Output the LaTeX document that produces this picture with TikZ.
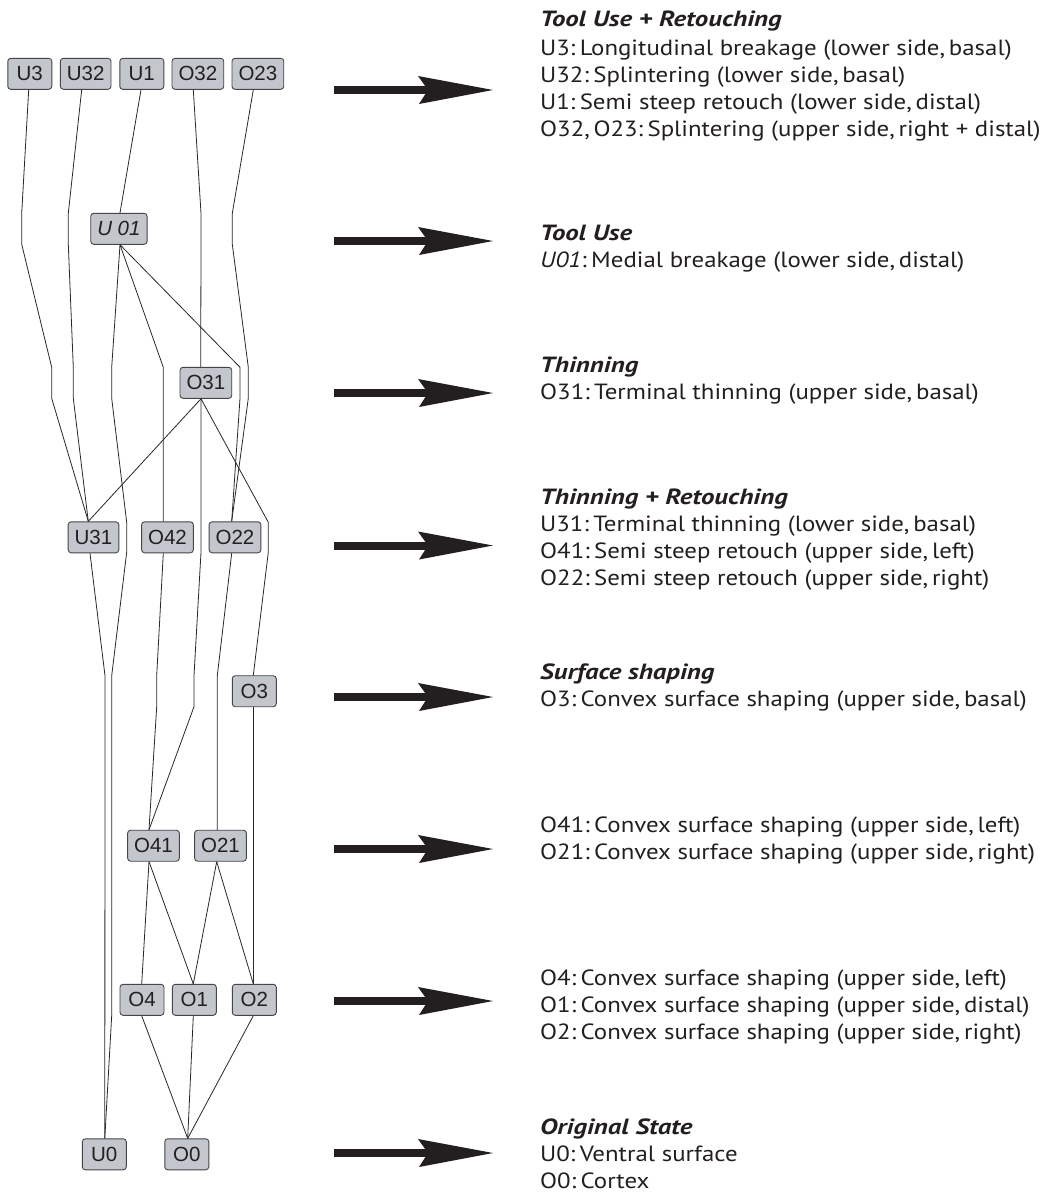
\documentclass[tikz,border=0pt]{standalone}
\usepackage{fontspec}
\setmainfont{PT Sans}[FakeStretch=1.13]
\newfontfamily\headfont{PT Sans}[FakeStretch=1.22]
\newfontfamily\boxfont{Liberation Sans}
\newcommand{\ksp}{\hspace{0.2em}}
\newcommand{\kcm}{\hspace{0.17em}}
\definecolor{boxfill}{RGB}{196,198,206}
\definecolor{boxline}{RGB}{70,70,72}
\definecolor{edgecol}{RGB}{40,40,40}
\definecolor{txtcol}{RGB}{35,31,32}
\tikzset{
  box/.style={draw=boxline, fill=boxfill, rounded corners=3pt, line width=0.9pt,
    minimum height=31pt, minimum width=44pt, inner xsep=6.5pt, inner ysep=0pt,
    font=\boxfont\fontsize{20.5}{24}\selectfont, text=txtcol},
  edge/.style={draw=edgecol, line width=0.8pt, line join=round},
  desc/.style={anchor=base west, inner sep=0pt, font=\fontsize{22}{27}\selectfont, text=txtcol},
  head/.style={anchor=base west, inner sep=0pt, font=\headfont\fontsize{22}{27}\selectfont\bfseries\itshape, text=txtcol},
  bigarr/.pic={
    \fill[txtcol] (0,-4) -- (94,-4) -- (94,4) -- (0,4) -- cycle;
    \fill[txtcol] (84,-14) -- (159,0) -- (85,14) -- (94,0) -- cycle;
  }
}
\begin{document}
\begin{tikzpicture}[x=1pt,y=-1pt]
\fill[white] (0,0) rectangle (1052,1194);
\useasboundingbox (0,0) rectangle (1052,1194);

% ---- nodes ----
\node[box] (U3)  at (29.8,73.8)  {U3};
\node[box] (U32) at (85.7,73.8)  {U32};
\node[box] (U1)  at (141.8,73.8) {U1};
\node[box] (O32) at (197.9,73.8) {O32};
\node[box] (O23) at (257.9,73.8) {O23};
\node[box] (U01) at (118.9,228.8) {\itshape U 01};
\node[box] (O31) at (205.9,382.8) {O31};
\node[box] (U31) at (93.5,537.3)  {U31};
\node[box] (O42) at (167.5,537.3) {O42};
\node[box] (O22) at (235.0,537.3) {O22};
\node[box] (O3)  at (254.3,691.2) {O3};
\node[box] (O41) at (153.5,845.7) {O41};
\node[box] (O21) at (220.5,845.7) {O21};
\node[box] (O4)  at (142.0,999.8) {O4};
\node[box] (O1)  at (194.3,999.8) {O1};
\node[box] (O2)  at (254.3,999.8) {O2};
\node[box] (U0)  at (104.3,1154.3) {U0};
\node[box] (O0)  at (186.8,1154.3) {O0};

% ---- connectors ----
\draw[edge] ([xshift=-1.1pt]U3.south) -- (21.7,213.3) -- (21.7,244.3) -- (51.7,367.3) -- (51.7,398.3) -- ([xshift=-5.2pt]U31.north);
\draw[edge] ([xshift=-4pt]U32.south) -- (68.3,213.3) -- (68.3,244.3) -- (73.3,367.3) -- (73.3,398.3) -- ([xshift=-5.2pt]U31.north);
\draw[edge] ([xshift=-0.8pt]U1.south) -- ([xshift=1.1pt]U01.north);
\draw[edge] ([xshift=-4.6pt]O32.south) -- (201,213.3) -- (201,244.3) -- ([xshift=-5.2pt]O31.north);
\draw[edge] ([xshift=-4.6pt]O23.south) -- (232.3,213.3) -- (232.3,244.3) -- (248.3,367.3) -- (248.3,398.3) -- ([xshift=-3.3pt]O22.north);
\draw[edge] ([xshift=1.1pt]U01.south) -- (111.7,367.3) -- (111.7,398.3) -- (126.7,522.3) -- (126.7,552.3) -- (111.7,675.7) -- (111.7,1015.7) -- ([xshift=0.5pt]U0.north);
\draw[edge] ([xshift=1.1pt]U01.south) -- (163.3,367.3) -- ([xshift=-4.2pt]O42.north);
\draw[edge] ([xshift=1.1pt]U01.south) -- (240,367.3) -- (240,398.3) -- ([xshift=-3.3pt]O22.north);
\draw[edge] ([xshift=-3.5pt]U31.south) -- (105,675.7) -- ([xshift=0.5pt]U0.north);
\draw[edge] ([xshift=-4.9pt]O31.south) -- ([xshift=-5.2pt]U31.north);
\draw[edge] ([xshift=-4.9pt]O31.south) -- (201,552.3) -- (194,675.7) -- (194,706.7) -- ([xshift=-4.5pt]O41.north);
\draw[edge] ([xshift=-4.9pt]O31.south) -- (268.3,522.3) -- (268.3,552.3) -- ([xshift=-1pt]O3.north);
\draw[edge] ([xshift=-4.2pt]O42.south) -- (156.7,675.7) -- (156.7,706.7) -- ([xshift=-4.5pt]O41.north);
\draw[edge] ([xshift=-3.3pt]O22.south) -- (217.3,675.7) -- ([xshift=-3.2pt]O21.north);
\draw[edge] ([xshift=-1pt]O3.south) -- ([xshift=-1pt]O2.north);
\draw[edge] ([xshift=-4.5pt]O41.south) -- ([xshift=-0.3pt]O4.north);
\draw[edge] ([xshift=-4.5pt]O41.south) -- ([xshift=-1pt]O1.north);
\draw[edge] ([xshift=-3.8pt]O21.south) -- ([xshift=-1pt]O1.north);
\draw[edge] ([xshift=-3.8pt]O21.south) -- ([xshift=-1pt]O2.north);
\draw[edge] ([xshift=-0.3pt]O4.south) -- ([xshift=0.9pt]O0.north);
\draw[edge] ([xshift=-1pt]O1.south) -- ([xshift=0.9pt]O0.north);
\draw[edge] ([xshift=-1pt]O2.south) -- ([xshift=0.9pt]O0.north);

% ---- big arrows ----
\pic at (334,90) {bigarr};
\pic at (334,241) {bigarr};
\pic at (334,393) {bigarr};
\pic at (334,545.5) {bigarr};
\pic at (334,697) {bigarr};
\pic at (334,849) {bigarr};
\pic at (334,1001) {bigarr};
\pic at (334,1153) {bigarr};

% ---- descriptions ----
\node[head] (t1h) at (540,26) {Tool Use + Retouching};
\node[desc] (t1a) at (540,55) {U3:\ksp Longitudinal breakage (lower side,\kcm basal)};
\node[desc] (t1b) at (540,82) {U32:\ksp Splintering (lower side,\kcm basal)};
\node[desc] (t1c) at (540,109) {U1:\ksp Semi steep retouch (lower side,\kcm distal)};
\node[desc] (t1d) at (540,136) {O32,\kcm O23:\ksp Splintering (upper side,\kcm right + distal)};

\node[head] (t2h) at (540,240) {Tool Use};
\node[desc] (t2a) at (540,267) {\textit{U01}:\ksp Medial breakage (lower side,\kcm distal)};

\node[head] (t3h) at (540,372) {Thinning};
\node[desc] (t3a) at (540,399) {O31:\ksp Terminal thinning (upper side,\kcm basal)};

\node[head] (t4h) at (540,504) {Thinning + Retouching};
\node[desc] (t4a) at (540,531) {U31:\ksp Terminal thinning (lower side,\kcm basal)};
\node[desc] (t4b) at (540,558) {O41:\ksp Semi steep retouch (upper side,\kcm left)};
\node[desc] (t4c) at (540,585) {O22:\ksp Semi steep retouch (upper side,\kcm right)};

\node[head] (t5h) at (540,679) {Surface shaping};
\node[desc] (t5a) at (540,706) {O3:\ksp Convex surface shaping (upper side,\kcm basal)};

\node[desc] (t6a) at (540,832) {O41:\ksp Convex surface shaping (upper side,\kcm left)};
\node[desc] (t6b) at (540,859) {O21:\ksp Convex surface shaping (upper side,\kcm right)};

\node[desc] (t7a) at (540,985) {O4:\ksp Convex surface shaping (upper side,\kcm left)};
\node[desc] (t7b) at (540,1012) {O1:\ksp Convex surface shaping (upper side,\kcm distal)};
\node[desc] (t7c) at (540,1039) {O2:\ksp Convex surface shaping (upper side,\kcm right)};

\node[head] (t8h) at (540,1134) {Original State};
\node[desc] (t8a) at (540,1161) {U0:\ksp Ventral surface};
\node[desc] (t8b) at (540,1188) {O0:\ksp Cortex};
\end{tikzpicture}
\end{document}
